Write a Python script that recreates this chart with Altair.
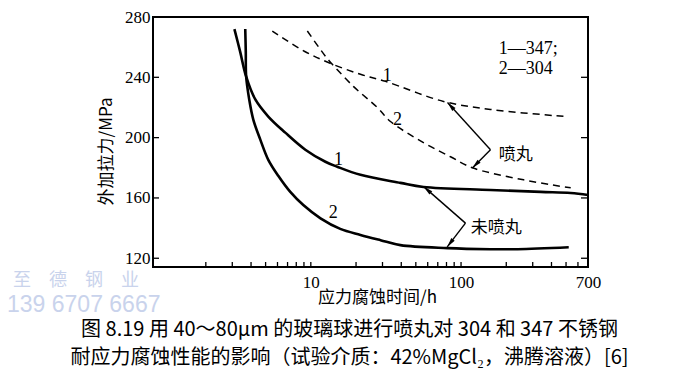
import math
import altair as alt
import pandas as pd

# ---- data (time in h, stress in MPa) ----
s347_bare_t = [3.10, 3.39, 3.70, 4.27, 5.21, 6.76, 9.19, 12.5, 15.0, 21.4, 39.5, 56.2, 157, 339, 537, 700]
s347_bare_s = [272, 256.7, 240.9, 225.3, 214, 203.3, 192, 184, 180.7, 175.3, 170, 167.3, 165.3, 164, 163.3, 162]
s304_bare_t = [3.66, 3.69, 3.71, 3.89, 4.14, 4.61, 5.21, 6.07, 7.30, 8.91, 11.6, 15.7, 21.4, 29.1, 39.5, 81.3, 157, 238, 521]
s304_bare_s = [272, 256.7, 240.7, 225.3, 212, 198.7, 185.3, 174.7, 164, 155.3, 146.5, 139.5, 135.5, 132, 128.7, 126.7, 126, 126, 127.3]
s347_shot_t = [5.54, 9.05, 13.7, 21.4, 31.4, 76.5, 157, 497]
s347_shot_s = [270.7, 257.3, 249, 242, 237.3, 224, 218.7, 214]
s304_shot_t = [9.48, 12.5, 13.8, 19.2, 27.7, 33.9, 56.2, 85.1, 119, 261, 537]
s304_shot_s = [270.7, 254, 249, 234, 220, 210.7, 196.7, 187.3, 180, 172, 166.7]

x_tick_values = [2, 3, 4, 5, 6, 7, 8, 9, 10, 20, 30, 40, 50, 60, 70, 80, 90, 100, 200, 300, 400, 500, 600]
x_label_values = [10, 100, 700]
y_label_values = [120, 160, 200, 240, 280]
y_right_ticks = [120, 160, 200, 240]

curve_label_t = [15.3, 14.1, 32.3, 37.8]
curve_label_s = [185.3, 149.8, 240.7, 212]
curve_label_text = ["1", "2", "1", "2"]

key_t = [178, 178]
key_s = [258.7, 245.3]
key_text = ["1—347;", "2—304"]

note_t = [178, 116]
note_s = [188.7, 140]
note_text = ["喷丸", "未喷丸"]

# arrows: from label vertex to tip on curve
arrow_t0 = [157, 157, 107, 107]
arrow_s0 = [192, 192, 143.3, 143.3]
arrow_t1 = [81.3, 119, 56.4, 80.9]
arrow_s1 = [223.3, 179.8, 167.5, 127.5]

caption = ["图 8.19  用 40～80μm 的玻璃球进行喷丸对 304 和 347 不锈钢",
           "耐应力腐蚀性能的影响（试验介质：42%MgCl₂，沸腾溶液）[6]"]
watermark = ["至　德　钢　业", "139 6707 6667"]

# ---- layout ----
W, H = 435, 250
XMIN, XMAX = 0.89, 700
YMIN, YMAX = 114.2, 280
SERIF = "Liberation Serif"
CJK = "Noto Sans CJK SC"

xs = alt.Scale(type="log", domain=[XMIN, XMAX], nice=False)
ys = alt.Scale(domain=[YMIN, YMAX], nice=False, zero=False)

xaxis = alt.Axis(values=x_label_values, ticks=False, domain=False, grid=False, format="d",
                 labelFont=SERIF, labelFontSize=17, labelColor="black", labelPadding=7,
                 labelFlush=False,
                 title="应力腐蚀时间/h", titleFont=CJK, titleFontSize=17, titleFontWeight="normal",
                 titleColor="black", titleX=224, titleY=30, titleBaseline="middle", titleAlign="center")
yaxis = alt.Axis(values=y_label_values, ticks=False, domain=False, grid=False,
                 labelFont=SERIF, labelFontSize=17, labelColor="black", labelPadding=3,
                 title="外加拉力/MPa", titleFont=CJK, titleFontSize=17, titleFontWeight="normal",
                 titleColor="black", titleX=-47, titleY=134, titleAngle=270,
                 titleBaseline="middle", titleAlign="center")

X = alt.X("x:Q", scale=xs, axis=xaxis)
Y = alt.Y("y:Q", scale=ys, axis=yaxis)


def series_df(name, ts, ss):
    return pd.DataFrame({"x": ts, "y": ss, "series": name, "order": range(len(ts))})


solid_df = pd.concat([series_df("347 bare", s347_bare_t, s347_bare_s),
                      series_df("304 bare", s304_bare_t, s304_bare_s)])
dash_df = pd.concat([series_df("347 shot", s347_shot_t, s347_shot_s),
                     series_df("304 shot", s304_shot_t, s304_shot_s)])

solid = alt.Chart(solid_df).mark_line(interpolate="catmull-rom", color="black", strokeWidth=2.6).encode(
    x=X, y=Y, detail="series:N", order="order:Q")
dashed = alt.Chart(dash_df).mark_line(interpolate="catmull-rom", color="black", strokeWidth=1.5,
                                      strokeDash=[7, 5]).encode(
    x=X, y=Y, detail="series:N", order="order:Q")

# plot frame
frame = alt.Chart(pd.DataFrame({"f": [0]})).mark_rect(
    fillOpacity=0, stroke="black", strokeWidth=2).encode(
    x=alt.value(0), x2=alt.value(W), y=alt.value(0), y2=alt.value(H))

# inward ticks
xt = alt.Chart(pd.DataFrame({"x": x_tick_values})).mark_rule(color="black", strokeWidth=1.3).encode(
    x=X, y=alt.value(H), y2=alt.value(H - 5))
ytl = alt.Chart(pd.DataFrame({"y": y_label_values})).mark_rule(color="black", strokeWidth=1.3).encode(
    y=Y, x=alt.value(0), x2=alt.value(6))
ytr = alt.Chart(pd.DataFrame({"y": y_right_ticks})).mark_rule(color="black", strokeWidth=1.3).encode(
    y=Y, x=alt.value(W), x2=alt.value(W - 7))

labels = alt.Chart(pd.DataFrame({"x": curve_label_t, "y": curve_label_s, "t": curve_label_text})).mark_text(
    font=SERIF, fontSize=18, color="black", align="center", baseline="middle").encode(x=X, y=Y, text="t:N")
keys = alt.Chart(pd.DataFrame({"x": key_t, "y": key_s, "t": key_text})).mark_text(
    font=SERIF, fontSize=18, color="black", align="left", baseline="middle").encode(x=X, y=Y, text="t:N")
notes = alt.Chart(pd.DataFrame({"x": note_t, "y": note_s, "t": note_text})).mark_text(
    font=CJK, fontSize=17, color="black", align="left", baseline="middle").encode(x=X, y=Y, text="t:N")


def px(t):
    return W * (math.log10(t) - math.log10(XMIN)) / (math.log10(XMAX) - math.log10(XMIN))


def py(s):
    return H * (YMAX - s) / (YMAX - YMIN)


angles = []
for a, b, c, d in zip(arrow_t0, arrow_s0, arrow_t1, arrow_s1):
    dx = px(c) - px(a)
    dy = py(d) - py(b)
    angles.append(math.degrees(math.atan2(dx, -dy)) % 360)

arrow_df = pd.DataFrame({"x": arrow_t0, "y": arrow_s0, "x2": arrow_t1, "y2": arrow_s1, "ang": angles})
arrow_lines = alt.Chart(arrow_df).mark_rule(color="black", strokeWidth=1.4).encode(
    x=X, y=Y, x2="x2:Q", y2="y2:Q")
heads = alt.Chart(arrow_df.assign(x=arrow_df["x2"], y=arrow_df["y2"])).mark_point(
    shape="M0,0L0.45,2L-0.45,2Z", filled=True, color="black", opacity=1, size=90).encode(
    x=X, y=Y, angle=alt.Angle("ang:Q", scale=None))

wm1 = alt.Chart(pd.DataFrame({"t": [watermark[0]]})).mark_text(
    font=CJK, fontSize=18, color="#c9d3ec", align="left", baseline="middle").encode(
    text="t:N", x=alt.value(-140), y=alt.value(264))
wm2 = alt.Chart(pd.DataFrame({"t": [watermark[1]]})).mark_text(
    font="Liberation Sans", fontSize=23, color="#c9d3ec", align="left", baseline="middle").encode(
    text="t:N", x=alt.value(-146), y=alt.value(288))

chart = alt.layer(wm1, wm2, frame, xt, ytl, ytr, solid, dashed, arrow_lines, heads,
                  labels, keys, notes).properties(
    width=W, height=H,
    background="white",
    autosize=alt.AutoSizeParams(type="none"),
    padding={"left": 145, "top": 9, "right": 104, "bottom": 110},
    title=alt.TitleParams(text=caption, orient="bottom", anchor="middle", font=CJK, fontSize=20,
                          fontWeight="normal", color="black", lineHeight=28, offset=3, dx=-21),
).configure_view(stroke="transparent").configure_axis(
    labelFont=SERIF, labelColor="black", titleColor="black")

chart.save("out.html", embed_options={"renderer": "svg", "actions": False})
